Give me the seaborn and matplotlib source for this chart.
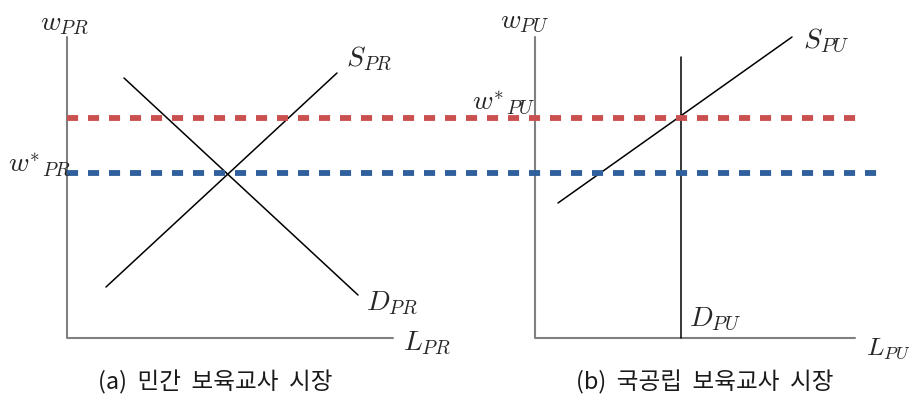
import matplotlib.pyplot as plt
import seaborn as sns
import pandas as pd

# diagram drawn on a single canvas, coordinates in "chart units" (x right, y down)
axes_a_x = [67, 67, 393]
axes_a_y = [37, 338, 338]
axes_b_x = [535, 535, 855]
axes_b_y = [37, 338, 338]

supply_pr_x = [106, 337]
supply_pr_y = [287, 73]
demand_pr_x = [124, 358]
demand_pr_y = [78, 295]

supply_pu_x = [558, 792]
supply_pu_y = [203, 37]
demand_pu_x = [681, 681]
demand_pu_y = [57, 338]

wage_pu_x = [67, 865]
wage_pu_y = [118, 118]
wage_pr_x = [67, 880]
wage_pr_y = [173, 173]

captions = ["(a)  민간  보육교사  시장", "(b)  국공립  보육교사  시장"]

sns.set_theme(style="white")
plt.rcParams['font.family'] = ['Noto Sans CJK KR', 'DejaVu Sans']
plt.rcParams['mathtext.fontset'] = 'cm'

fig = plt.figure(figsize=(9.09, 3.97), dpi=100)
ax = fig.add_axes([0, 0, 1, 1])
ax.set_xlim(0, 909)
ax.set_ylim(397, 0)
ax.axis('off')


def seg(xs, ys, **kw):
    df = pd.DataFrame({'x': xs, 'y': ys})
    sns.lineplot(data=df, x='x', y='y', sort=False, estimator=None, ax=ax, **kw)


for xs, ys in [(axes_a_x, axes_a_y), (axes_b_x, axes_b_y)]:
    seg(xs, ys, color='#808080', lw=1.5)

for xs, ys in [(supply_pr_x, supply_pr_y), (demand_pr_x, demand_pr_y),
               (supply_pu_x, supply_pu_y), (demand_pu_x, demand_pu_y)]:
    seg(xs, ys, color='black', lw=1.1)

seg(wage_pu_x, wage_pu_y, color='#c9504f', lw=4.2, linestyle=(0, (1.9, 1.7)))
seg(wage_pr_x, wage_pr_y, color='#2f5f9c', lw=4.2, linestyle=(0, (1.9, 1.7)))

mfs = 20
ax.text(40, 22, r'$w_{PR}$', fontsize=mfs, va='center')
ax.text(8, 163, r'$w^{*}{}_{PR}$', fontsize=mfs, va='center')
ax.text(403, 342, r'$L_{PR}$', fontsize=mfs, va='center')
ax.text(346, 58, r'$S_{PR}$', fontsize=mfs, va='center')
ax.text(366, 302, r'$D_{PR}$', fontsize=mfs, va='center')

ax.text(500, 20, r'$w_{PU}$', fontsize=mfs, va='center')
ax.text(472, 101, r'$w^{*}{}_{PU}$', fontsize=mfs, va='center')
ax.text(866, 348, r'$L_{PU}$', fontsize=18.5, va='center')
ax.text(803, 40, r'$S_{PU}$', fontsize=mfs, va='center')
ax.text(689, 318, r'$D_{PU}$', fontsize=mfs, va='center')

ax.text(215, 382, captions[0], fontsize=17, ha='center', va='center', color='#1a1a1a')
ax.text(705, 382, captions[1], fontsize=17, ha='center', va='center', color='#1a1a1a')

if ax.get_legend():
    ax.get_legend().remove()
fig.savefig('out.png', dpi=100)
